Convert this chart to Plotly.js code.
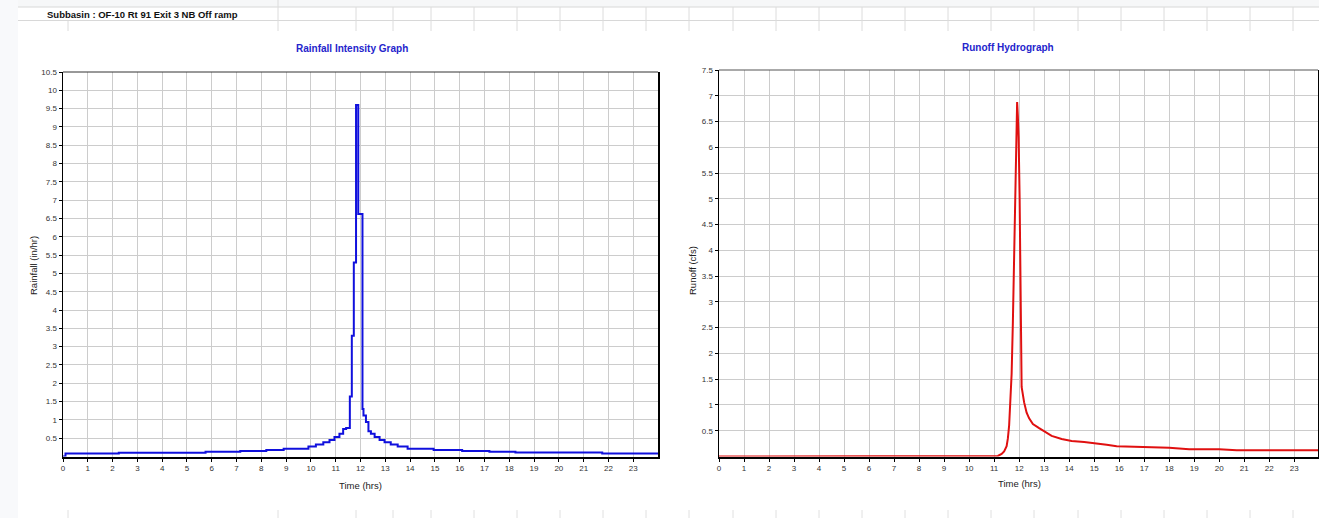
<!DOCTYPE html>
<html>
<head>
<meta charset="utf-8">
<script src="https://cdn.plot.ly/plotly-3.0.1.min.js"></script>
<style>
  html, body { margin: 0; padding: 0; background: #ffffff; }
  #chart { width: 1319px; height: 518px; }
</style>
</head>
<body>
<div id="chart"></div>
<script>
// Rainfall intensity (in/hr): each value holds from its start time until the next time
const rainTime = [0, 0.1, 2.25, 5.75, 7.15, 8.2, 8.9, 9.9, 10.2, 10.5, 10.75, 10.95, 11.15, 11.3, 11.42,
  11.57, 11.65, 11.73, 11.82, 11.91, 12.08, 12.12, 12.22, 12.32, 12.42, 12.57, 12.77, 12.97, 13.22,
  13.5, 13.9, 14.95, 16.1, 17.2, 18.25, 21.75, 24];
const rainIntensity = [0, 0.08, 0.1, 0.13, 0.15, 0.18, 0.21, 0.27, 0.33, 0.39, 0.45, 0.53, 0.62, 0.75, 0.78,
  1.64, 3.3, 5.3, 9.6, 6.62, 1.3, 1.12, 0.94, 0.69, 0.62, 0.53, 0.45, 0.39, 0.33,
  0.27, 0.21, 0.18, 0.15, 0.13, 0.11, 0.08, 0.08];

// Runoff hydrograph (cfs)
const runoffTime = [0, 11.0, 11.15, 11.3, 11.4, 11.5, 11.55, 11.6, 11.65, 11.7, 11.75, 11.8, 11.85, 11.88,
  11.92, 11.95, 11.98, 12.02, 12.05, 12.08, 12.1, 12.2, 12.3, 12.4, 12.55, 12.8, 13.0, 13.3, 13.7,
  14.1, 14.6, 15.0, 15.5, 15.9, 16.5, 17.5, 18.0, 18.8, 20.0, 20.7, 24];
const runoffFlow = [0, 0, 0.01, 0.05, 0.1, 0.2, 0.35, 0.6, 1.0, 1.6, 2.6, 4.1, 5.6, 6.4,
  6.88, 6.6, 6.2, 5.0, 3.5, 2.0, 1.35, 1.05, 0.85, 0.74, 0.63, 0.55, 0.49, 0.4, 0.34,
  0.3, 0.28, 0.26, 0.23, 0.2, 0.19, 0.18, 0.17, 0.14, 0.14, 0.12, 0.12];

const hourTicks = [0,1,2,3,4,5,6,7,8,9,10,11,12,13,14,15,16,17,18,19,20,21,22,23];
const rainTicks = [0.5,1,1.5,2,2.5,3,3.5,4,4.5,5,5.5,6,6.5,7,7.5,8,8.5,9,9.5,10,10.5];
const runoffTicks = [0.5,1,1.5,2,2.5,3,3.5,4,4.5,5,5.5,6,6.5,7,7.5];

const W = 1319, H = 518;
const px = x => x / W;
const py = y => 1 - y / H;

const FONT = 'Liberation Sans, Arial, sans-serif';
const tickFont = { family: FONT, size: 8, color: '#333333' };

function axisBase(extra) {
  return Object.assign({
    showgrid: true, gridcolor: '#cccccc', gridwidth: 1,
    zeroline: false, showline: true, linecolor: '#000000',
    ticks: 'outside', ticklen: 3, tickcolor: '#000000', tickwidth: 1,
    tickfont: tickFont, fixedrange: true
  }, extra);
}

const traces = [
  {
    x: rainTime, y: rainIntensity, type: 'scatter', mode: 'lines',
    line: { color: '#1010dd', width: 2, shape: 'hv' },
    xaxis: 'x', yaxis: 'y', hoverinfo: 'skip'
  },
  {
    x: runoffTime, y: runoffFlow, type: 'scatter', mode: 'lines',
    line: { color: '#e01010', width: 2 },
    xaxis: 'x2', yaxis: 'y2', hoverinfo: 'skip'
  }
];

// Spreadsheet column rules behind the charts
const colLines = [278, 356, 393, 431, 474, 517, 560, 603, 646, 689, 733, 776, 819, 862, 905, 948, 991, 1034, 1078, 1121, 1164, 1207, 1250, 1293];
const shapes = [
  { type: 'rect', xref: 'paper', yref: 'paper', x0: 0, x1: 1, y0: py(7), y1: 1, fillcolor: '#f6f7f8', line: { width: 0 }, layer: 'below' },
  { type: 'rect', xref: 'paper', yref: 'paper', x0: 0, x1: px(18), y0: 0, y1: 1, fillcolor: '#f8f9fb', line: { width: 0 }, layer: 'below' },
  { type: 'line', xref: 'paper', yref: 'paper', x0: px(18), x1: 1, y0: py(7), y1: py(7), line: { color: '#d8d8d8', width: 1 } },
  { type: 'line', xref: 'paper', yref: 'paper', x0: px(18), x1: 1, y0: py(20.5), y1: py(20.5), line: { color: '#d8d8d8', width: 1 } },
  { type: 'line', xref: 'paper', yref: 'paper', x0: px(68), x1: px(68), y0: py(21), y1: py(31), line: { color: '#dcdcdc', width: 1 } },
  { type: 'line', xref: 'paper', yref: 'paper', x0: px(68), x1: px(68), y0: py(510), y1: py(518), line: { color: '#e0e0e0', width: 1 } }
];
colLines.forEach(c => {
  shapes.push({ type: 'line', xref: 'paper', yref: 'paper', x0: px(c), x1: px(c), y0: py(c === 278 ? 0 : 7), y1: py(31), line: { color: '#dcdcdc', width: 1 } });
  shapes.push({ type: 'line', xref: 'paper', yref: 'paper', x0: px(c), x1: px(c), y0: py(510), y1: py(518), line: { color: '#e0e0e0', width: 1 } });
});
// Top frame edges of both plot areas
shapes.push({ type: 'line', xref: 'paper', yref: 'paper', x0: px(63), x1: px(658), y0: py(72), y1: py(72), line: { color: '#333333', width: 1 } });
shapes.push({ type: 'line', xref: 'paper', yref: 'paper', x0: px(719), x1: px(1318), y0: py(70), y1: py(70), line: { color: '#555555', width: 1 } });

const annotations = [
  { text: '<b>Subbasin : OF-10 Rt 91 Exit 3 NB Off ramp</b>', x: px(45), y: py(14.5), xanchor: 'left', yanchor: 'middle',
    font: { family: FONT, size: 9.5, color: '#111111' } },
  { text: '<b>Rainfall Intensity Graph</b>', x: px(352), y: py(48), xanchor: 'center', yanchor: 'middle',
    font: { family: FONT, size: 10, color: '#2424cc' } },
  { text: '<b>Runoff Hydrograph</b>', x: px(1008), y: py(47), xanchor: 'center', yanchor: 'middle',
    font: { family: FONT, size: 10, color: '#2424cc' } },
  { text: 'Rainfall (in/hr)', x: px(33), y: py(266), xanchor: 'center', yanchor: 'middle', textangle: -90,
    font: { family: FONT, size: 9.5, color: '#222222' } },
  { text: 'Runoff (cfs)', x: px(692), y: py(271), xanchor: 'center', yanchor: 'middle', textangle: -90,
    font: { family: FONT, size: 9.5, color: '#222222' } },
  { text: 'Time (hrs)', x: px(360), y: py(485), xanchor: 'center', yanchor: 'middle',
    font: { family: FONT, size: 9.5, color: '#222222' } },
  { text: 'Time (hrs)', x: px(1019), y: py(483), xanchor: 'center', yanchor: 'middle',
    font: { family: FONT, size: 9.5, color: '#222222' } }
];
annotations.forEach(a => { a.xref = 'paper'; a.yref = 'paper'; a.showarrow = false; });

const layout = {
  width: W, height: H,
  margin: { l: 0, r: 0, t: 0, b: 0, pad: 0 },
  paper_bgcolor: '#ffffff', plot_bgcolor: '#ffffff',
  showlegend: false,
  xaxis: axisBase({ domain: [px(63), px(658)], range: [0, 24], tickvals: hourTicks, anchor: 'y', linewidth: 2 }),
  yaxis: axisBase({ domain: [py(456.5), py(72)], range: [0, 10.5], tickvals: rainTicks, anchor: 'x', linewidth: 1.5, mirror: true }),
  xaxis2: axisBase({ domain: [px(719), px(1318)], range: [0, 23.95], tickvals: hourTicks, anchor: 'y2', linewidth: 2 }),
  yaxis2: axisBase({ domain: [py(456.5), py(70)], range: [0, 7.5], tickvals: runoffTicks, anchor: 'x2', linewidth: 1.5, mirror: true }),
  shapes: shapes,
  annotations: annotations
};

Plotly.newPlot('chart', traces, layout, { displayModeBar: false, staticPlot: true });
</script>
</body>
</html>
